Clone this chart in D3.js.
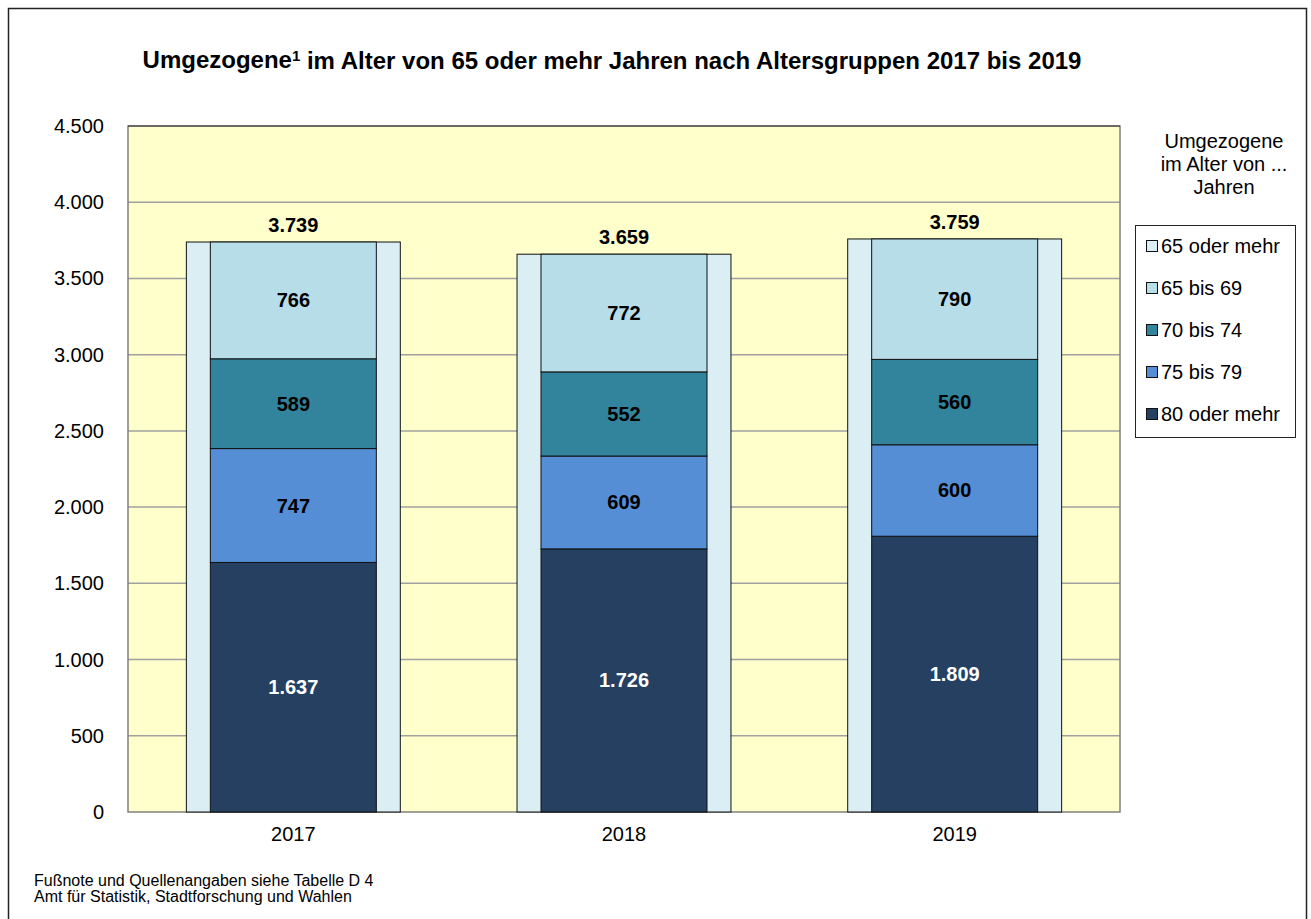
<!DOCTYPE html>
<html>
<head>
<meta charset="utf-8">
<script src="https://cdn.jsdelivr.net/npm/d3@7"></script>
<style>
  body { margin: 0; background: #fff; }
  svg { font-family: "Liberation Sans", Arial, sans-serif; }
</style>
</head>
<body>
<svg id="chart" width="1311" height="919"></svg>
<script>
const years = ["2017", "2018", "2019"];
const groups = ["80 oder mehr", "75 bis 79", "70 bis 74", "65 bis 69"];
const v80plus = [1637, 1726, 1809];
const v75to79 = [747, 609, 600];
const v70to74 = [589, 552, 560];
const v65to69 = [766, 772, 790];
const totals = [3739, 3659, 3759];
const yTicks = [0, 500, 1000, 1500, 2000, 2500, 3000, 3500, 4000, 4500];
const legendLabels = ["65 oder mehr", "65 bis 69", "70 bis 74", "75 bis 79", "80 oder mehr"];

const colors = {
    "65 oder mehr": "#daeef3",
    "65 bis 69": "#b7dde8",
    "70 bis 74": "#31849b",
    "75 bis 79": "#558ed5",
    "80 oder mehr": "#254061"
};

const svg = d3.select("#chart");
const fmt = n => d3.format(",")(n).replace(/,/g, ".");

// outer frame
svg.append("rect")
    .attr("x", 8.5).attr("y", 8.5)
    .attr("width", 1298).attr("height", 920)
    .attr("fill", "none").attr("stroke", "#222").attr("stroke-width", 1.5);

const margin = { top: 126, left: 128, right: 1120, bottom: 812 };

const x = d3.scaleBand()
    .domain(years)
    .range([margin.left, margin.right]);

const y = d3.scaleLinear()
    .domain([0, 4500])
    .range([margin.bottom, margin.top]);

// plot background
svg.append("rect")
    .attr("x", margin.left).attr("y", margin.top)
    .attr("width", margin.right - margin.left)
    .attr("height", margin.bottom - margin.top)
    .attr("fill", "#ffffcc");

// gridlines
svg.append("g")
    .selectAll("line")
    .data(yTicks.filter(t => t > 0 && t < 4500))
    .enter().append("line")
    .attr("x1", margin.left).attr("x2", margin.right)
    .attr("y1", d => y(d)).attr("y2", d => y(d))
    .attr("stroke", "#a0a0a0").attr("stroke-width", 1.5);

// plot border
svg.append("rect")
    .attr("x", margin.left).attr("y", margin.top)
    .attr("width", margin.right - margin.left)
    .attr("height", margin.bottom - margin.top)
    .attr("fill", "none").attr("stroke", "#808080").attr("stroke-width", 1.5);
svg.append("line")
    .attr("x1", margin.left).attr("x2", margin.right)
    .attr("y1", margin.top).attr("y2", margin.top)
    .attr("stroke", "#333").attr("stroke-width", 1);

// wide bars: 65 oder mehr (total)
const wideW = x.bandwidth() * 0.647;
const narrowW = x.bandwidth() * 0.502;

svg.append("g")
    .selectAll("rect")
    .data(years)
    .enter().append("rect")
    .attr("x", d => x(d) + (x.bandwidth() - wideW) / 2)
    .attr("y", (d, i) => y(totals[i]))
    .attr("width", wideW)
    .attr("height", (d, i) => y(0) - y(totals[i]))
    .attr("fill", colors["65 oder mehr"])
    .attr("stroke", "#111").attr("stroke-width", 1);

// stacked inner bars
const table = years.map((yr, i) => ({
    year: yr,
    "80 oder mehr": v80plus[i],
    "75 bis 79": v75to79[i],
    "70 bis 74": v70to74[i],
    "65 bis 69": v65to69[i]
}));
const stacked = d3.stack().keys(groups)(table);

const layers = svg.append("g")
    .selectAll("g")
    .data(stacked)
    .enter().append("g")
    .attr("fill", d => colors[d.key]);

layers.selectAll("rect")
    .data(d => d)
    .enter().append("rect")
    .attr("x", d => x(d.data.year) + (x.bandwidth() - narrowW) / 2)
    .attr("y", d => y(d[1]))
    .attr("width", narrowW)
    .attr("height", d => y(d[0]) - y(d[1]))
    .attr("stroke", "#111").attr("stroke-width", 1);

// segment labels
stacked.forEach(layer => {
    svg.append("g")
        .selectAll("text")
        .data(layer)
        .enter().append("text")
        .attr("x", d => x(d.data.year) + x.bandwidth() / 2)
        .attr("y", d => (y(d[0]) + y(d[1])) / 2)
        .attr("dy", "0.35em")
        .attr("text-anchor", "middle")
        .attr("font-size", 20).attr("font-weight", "bold")
        .attr("fill", layer.key === "80 oder mehr" ? "#fff" : "#000")
        .text(d => fmt(d[1] - d[0]));
});

// total labels
svg.append("g")
    .selectAll("text")
    .data(years)
    .enter().append("text")
    .attr("x", d => x(d) + x.bandwidth() / 2)
    .attr("y", (d, i) => y(totals[i]) - 17)
    .attr("dy", "0.35em")
    .attr("text-anchor", "middle")
    .attr("font-size", 20).attr("font-weight", "bold")
    .text((d, i) => fmt(totals[i]));

// y axis labels
svg.append("g")
    .selectAll("text")
    .data(yTicks)
    .enter().append("text")
    .attr("x", 104)
    .attr("y", d => y(d))
    .attr("dy", "0.35em")
    .attr("text-anchor", "end")
    .attr("font-size", 20)
    .text(d => fmt(d));

// x axis labels
svg.append("g")
    .selectAll("text")
    .data(years)
    .enter().append("text")
    .attr("x", d => x(d) + x.bandwidth() / 2)
    .attr("y", 834)
    .attr("dy", "0.35em")
    .attr("text-anchor", "middle")
    .attr("font-size", 20)
    .text(d => d);

// title
const title = svg.append("text")
    .attr("x", 612).attr("y", 60)
    .attr("dy", "0.35em")
    .attr("text-anchor", "middle")
    .attr("font-size", 24).attr("font-weight", "bold");
title.append("tspan").text("Umgezogene");
title.append("tspan").attr("font-size", 15).attr("dy", "-0.5em").text("1");
title.append("tspan").attr("dy", "0.33em").text(" im Alter von 65 oder mehr Jahren nach Altersgruppen 2017 bis 2019");

// legend title
svg.append("g")
    .selectAll("text")
    .data(["Umgezogene", "im Alter von ...", "Jahren"])
    .enter().append("text")
    .attr("x", 1224)
    .attr("y", (d, i) => 141 + i * 23)
    .attr("dy", "0.35em")
    .attr("text-anchor", "middle")
    .attr("font-size", 20)
    .text(d => d);

// legend box
svg.append("rect")
    .attr("x", 1135.5).attr("y", 225.5)
    .attr("width", 160).attr("height", 212)
    .attr("fill", "#fff").attr("stroke", "#222").attr("stroke-width", 1);

const legend = svg.append("g")
    .selectAll("g")
    .data(legendLabels)
    .enter().append("g")
    .attr("transform", (d, i) => `translate(1146,${246 + i * 42})`);

legend.append("rect")
    .attr("x", 0.5).attr("y", -5.5)
    .attr("width", 11).attr("height", 11)
    .attr("fill", d => colors[d])
    .attr("stroke", "#111").attr("stroke-width", 1);

legend.append("text")
    .attr("x", 15)
    .attr("dy", "0.35em")
    .attr("font-size", 20)
    .text(d => d);

// footnote
svg.append("g")
    .selectAll("text")
    .data(["Fußnote und Quellenangaben siehe Tabelle D 4", "Amt für Statistik, Stadtforschung und Wahlen"])
    .enter().append("text")
    .attr("x", 34)
    .attr("y", (d, i) => 880 + i * 16)
    .attr("dy", "0.35em")
    .attr("font-size", 16)
    .text(d => d);
</script>
</body>
</html>
